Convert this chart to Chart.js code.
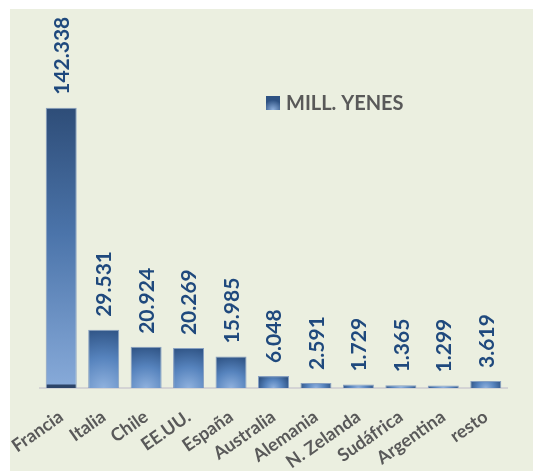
<!DOCTYPE html>
<html>
<head>
<meta charset="utf-8">
<script src="https://cdn.jsdelivr.net/npm/chart.js@4.4.1/dist/chart.umd.min.js"></script>
<style>
    body { margin: 0; background: #ffffff; }
    #panel { position: absolute; left: 10px; top: 9px; width: 523px; height: 462px; background: #ebefe0; }
</style>
</head>
<body>
<div id="panel"><canvas id="grafico" width="523" height="462"></canvas></div>
<script>
/*eslint no-undef: 0*/

const paises = ['Francia', 'Italia', 'Chile', 'EE.UU.', 'España', 'Australia', 'Alemania', 'N. Zelanda', 'Sudáfrica', 'Argentina', 'resto'];
const millYenes = [142.338, 29.531, 20.924, 20.269, 15.985, 6.048, 2.591, 1.729, 1.365, 1.299, 3.619];
const serieNombre = 'MILL. YENES';

const ColorEtiqueta = '#1f497d';
const ColorTexto = '#595959';

// gradient per bar, like the Excel fill
function rellenoBarra(context) {
    const chart = context.chart;
    const ctx = chart.ctx;
    const x = chart.scales.x;
    const y = chart.scales.y;
    if (!chart.chartArea || !x || !y || context.dataIndex === undefined) {
        return '#4a74ab';
    }
    const i = context.dataIndex;
    const cx = x.getPixelForValue(i);
    const top = y.getPixelForValue(millYenes[i]);
    const base = y.getPixelForValue(0);
    if (!isFinite(cx) || !isFinite(top) || !isFinite(base) || base - top <= 0) {
        return '#4a74ab';
    }
    if (i === 0) {
        const g = ctx.createLinearGradient(0, top, 0, base);
        g.addColorStop(0, '#2e4d78');
        g.addColorStop(0.45, '#4b74aa');
        g.addColorStop(0.985, '#86a9d8');
        g.addColorStop(0.99, '#2c4468');
        g.addColorStop(1, '#2c4468');
        return g;
    }
    const r = Math.max(base - top, 16) * 1.05;
    const g = ctx.createRadialGradient(cx, base, 0, cx, base, r);
    g.addColorStop(0, '#8fb1de');
    g.addColorStop(0.5, '#5683bd');
    g.addColorStop(1, '#2e5283');
    return g;
}

const etiquetasPlugin = {
    id: 'etiquetas',
    afterDatasetsDraw: function (chart) {
        const ctx = chart.ctx;
        const meta = chart.getDatasetMeta(0);
        ctx.save();
        ctx.fillStyle = ColorEtiqueta;
        ctx.font = 'bold 21px Lato';
        ctx.textAlign = 'left';
        ctx.textBaseline = 'middle';
        for (let i = 0; i < meta.data.length; i++) {
            const bar = meta.data[i];
            ctx.save();
            ctx.translate(bar.x + 1, bar.y - 13);
            ctx.rotate(-Math.PI / 2);
            ctx.fillText(millYenes[i].toFixed(3), 0, 0);
            ctx.restore();
        }
        ctx.restore();
    },
    afterDraw: function (chart) {
        // legend drawn by hand inside the plot
        const ctx = chart.ctx;
        ctx.save();
        const g = ctx.createRadialGradient(263, 101, 0, 263, 101, 10);
        g.addColorStop(0, '#8fb1de');
        g.addColorStop(1, '#2e5283');
        ctx.fillStyle = g;
        ctx.fillRect(256, 87, 14, 14);
        ctx.fillStyle = ColorTexto;
        ctx.font = 'bold 20px Lato';
        ctx.textAlign = 'left';
        ctx.textBaseline = 'alphabetic';
        ctx.fillText(serieNombre, 276, 101);
        ctx.restore();
    }
};

Chart.defaults.font.family = 'Lato';

const ctx = document.getElementById('grafico').getContext('2d');
window.grafico = new Chart(ctx, {
    type: 'bar',
    data: {
        labels: paises,
        datasets: [{
            label: serieNombre,
            data: millYenes,
            backgroundColor: rellenoBarra,
            borderColor: 'rgba(110, 140, 185, 0.8)',
            borderWidth: 1,
            barPercentage: 0.73,
            categoryPercentage: 1
        }]
    },
    options: {
        responsive: false,
        animation: false,
        layout: {
            padding: { left: 30, right: 26, top: 64, bottom: 0 }
        },
        plugins: {
            legend: { display: false },
            tooltip: { enabled: false }
        },
        scales: {
            x: {
                grid: { display: false, drawTicks: false },
                border: { display: true, color: '#d4d4d4', width: 2 },
                ticks: {
                    color: ColorTexto,
                    font: { size: 18, weight: 'bold' },
                    minRotation: 35,
                    maxRotation: 35,
                    autoSkip: false,
                    padding: 18
                },
                afterFit: function (scale) {
                    // keep the plot where the reference has it
                    scale.height = 83;
                    scale.paddingLeft = 0;
                    scale.paddingRight = 0;
                }
            },
            y: {
                display: false,
                min: 0,
                max: 160
            }
        }
    },
    plugins: [etiquetasPlugin]
});
</script>
</body>
</html>
